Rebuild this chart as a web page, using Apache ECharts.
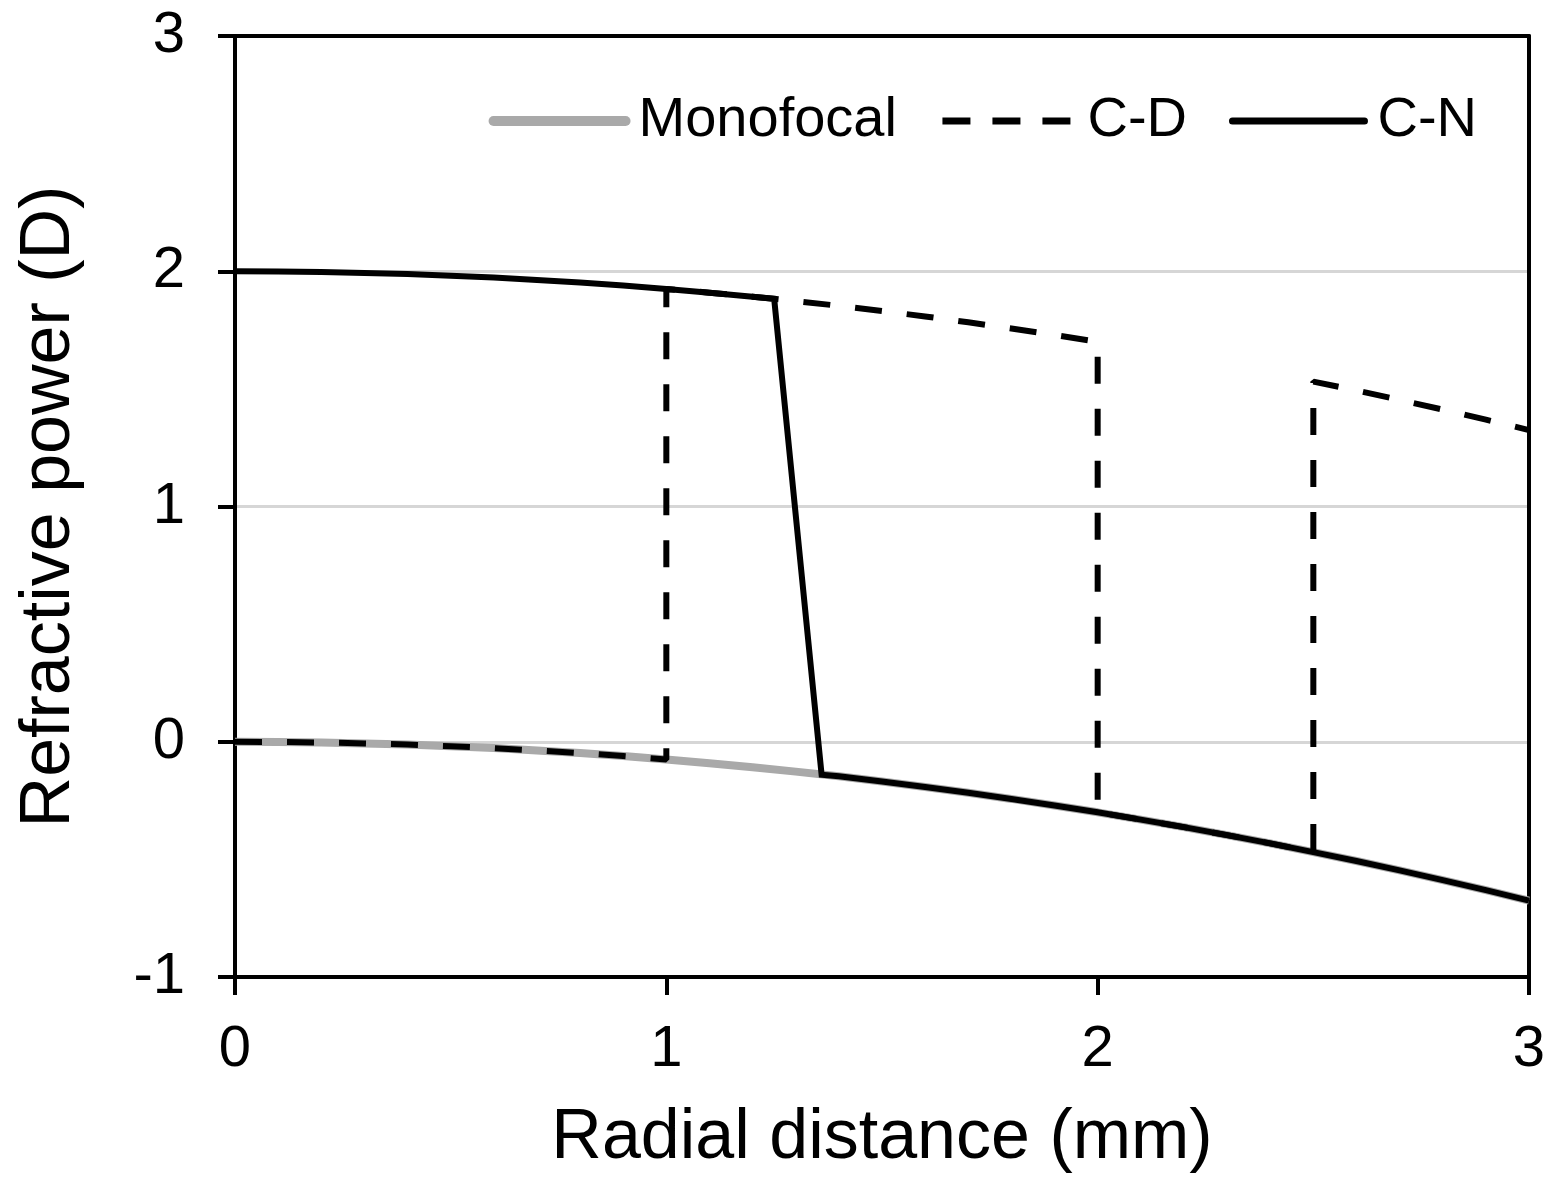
<!DOCTYPE html>
<html>
<head>
<meta charset="utf-8">
<script src="https://cdn.jsdelivr.net/npm/echarts@6/dist/echarts.min.js"></script>
<style>
  html, body { margin: 0; padding: 0; background: #fff; }
  #chart { width: 1552px; height: 1182px; }
</style>
</head>
<body>
<div id="chart"></div>
<script>
// Radial refractive power profiles of three lens designs (D vs mm)

// Monofocal profile, sampled every 0.1 mm
const monoX = [0, 0.1, 0.2, 0.3, 0.4, 0.5, 0.6, 0.7, 0.8, 0.9, 1.0,
               1.1, 1.2, 1.3, 1.4, 1.5, 1.6, 1.7, 1.8, 1.9, 2.0,
               2.1, 2.2, 2.3, 2.4, 2.5, 2.6, 2.7, 2.8, 2.9, 3.0];
const monoY = [0, -0.001, -0.003, -0.007, -0.012, -0.019, -0.027, -0.037, -0.048, -0.061, -0.075,
               -0.091, -0.108, -0.127, -0.147, -0.169, -0.192, -0.217, -0.243, -0.271, -0.300,
               -0.331, -0.363, -0.397, -0.432, -0.469, -0.507, -0.547, -0.588, -0.631, -0.675];

// C-D: alternating distance / near zones with steps at 1.0, 2.0 and 2.5 mm
const cdX = [0, 0.1, 0.2, 0.3, 0.4, 0.5, 0.6, 0.7, 0.8, 0.9, 1.0,
             1.0, 1.1, 1.2, 1.3, 1.4, 1.5, 1.6, 1.7, 1.8, 1.9, 2.0,
             2.0, 2.1, 2.2, 2.3, 2.4, 2.5,
             2.5, 2.6, 2.7, 2.8, 2.9, 3.0];
const cdY = [0, -0.001, -0.003, -0.007, -0.012, -0.019, -0.027, -0.037, -0.048, -0.061, -0.075,
             1.925, 1.909, 1.892, 1.873, 1.853, 1.831, 1.808, 1.783, 1.757, 1.729, 1.700,
             -0.300, -0.331, -0.363, -0.397, -0.432, -0.469,
             1.531, 1.493, 1.453, 1.412, 1.369, 1.325];

// C-N: near centre, then a ramp down to the distance profile at ~1.36 mm
const cnX = [0, 0.1, 0.2, 0.3, 0.4, 0.5, 0.6, 0.7, 0.8, 0.9, 1.0, 1.1, 1.2, 1.25,
             1.36, 1.4, 1.5, 1.6, 1.7, 1.8, 1.9, 2.0,
             2.1, 2.2, 2.3, 2.4, 2.5, 2.6, 2.7, 2.8, 2.9, 3.0];
const cnY = [2.0, 1.999, 1.997, 1.993, 1.988, 1.981, 1.973, 1.963, 1.952, 1.939, 1.925, 1.909, 1.892, 1.883,
             -0.140, -0.147, -0.169, -0.192, -0.217, -0.243, -0.271, -0.300,
             -0.331, -0.363, -0.397, -0.432, -0.469, -0.507, -0.547, -0.588, -0.631, -0.675];

const xTicks = [0, 1, 2, 3];
const yTicks = [-1, 0, 1, 2, 3];

const zip = (xs, ys) => xs.map((x, i) => [x, ys[i]]);

const FONT = '"Liberation Sans", Arial, sans-serif';
const GRAY = '#a9a9a9';
const chart = echarts.init(document.getElementById('chart'), null, { renderer: 'canvas' });

const axisLine = { show: true, onZero: false, lineStyle: { color: '#000', width: 4 } };
const xRange = { type: 'value', min: xTicks[0], max: xTicks[xTicks.length - 1], interval: 1 };
const yRange = { type: 'value', min: yTicks[0], max: yTicks[yTicks.length - 1], interval: 1 };

chart.setOption({
  animation: false,
  backgroundColor: '#ffffff',
  grid: { left: 235, right: 23, top: 36, bottom: 205 },
  legend: {
    right: 70, top: 88,
    itemWidth: 132, itemHeight: 16, itemGap: 42,
    itemStyle: { opacity: 0 },
    textStyle: { fontFamily: FONT, fontSize: 56, color: '#000', padding: [0, 0, 0, 8] },
    data: [
      { name: 'Monofocal', itemStyle: { opacity: 0 }, lineStyle: { width: 10, color: GRAY, cap: 'round' } },
      { name: 'C-D', itemStyle: { opacity: 0 }, lineStyle: { width: 7, color: '#000', type: [28, 22], cap: 'butt' } },
      { name: 'C-N', itemStyle: { opacity: 0 }, lineStyle: { width: 7, color: '#000', cap: 'round' } }
    ]
  },
  xAxis: [
    Object.assign({}, xRange, {
      position: 'bottom',
      name: 'Radial distance (mm)', nameLocation: 'middle', nameGap: 127,
      nameTextStyle: { fontFamily: FONT, fontSize: 70, color: '#000' },
      axisLine: axisLine,
      axisTick: { show: true, inside: false, length: 18, lineStyle: { color: '#000', width: 4 } },
      axisLabel: { fontFamily: FONT, fontSize: 58, color: '#000', margin: 44 },
      splitLine: { show: false }
    }),
    // plain frame line along the top edge
    Object.assign({}, xRange, {
      position: 'top', axisLine: axisLine,
      axisTick: { show: false }, axisLabel: { show: false }, splitLine: { show: false }
    })
  ],
  yAxis: [
    Object.assign({}, yRange, {
      position: 'left',
      name: 'Refractive power (D)', nameLocation: 'middle', nameGap: 150, nameRotate: 90,
      nameTextStyle: { fontFamily: FONT, fontSize: 70, color: '#000' },
      axisLine: axisLine,
      axisTick: { show: true, inside: false, length: 17, lineStyle: { color: '#000', width: 4 } },
      axisLabel: { fontFamily: FONT, fontSize: 58, color: '#000', margin: 50 },
      splitLine: { show: true, lineStyle: { color: '#d6d6d6', width: 3 } }
    }),
    // plain frame line along the right edge
    Object.assign({}, yRange, {
      position: 'right', axisLine: axisLine,
      axisTick: { show: false }, axisLabel: { show: false }, splitLine: { show: false }
    })
  ],
  series: [
    {
      name: 'Monofocal', type: 'line', data: zip(monoX, monoY),
      symbol: 'none', z: 2,
      itemStyle: { color: GRAY },
      lineStyle: { color: GRAY, width: 8 }
    },
    {
      name: 'C-D', type: 'line', data: zip(cdX, cdY),
      symbol: 'none', z: 3,
      itemStyle: { color: '#000' },
      lineStyle: { color: '#000', width: 6, type: [27, 25] }
    },
    {
      name: 'C-N', type: 'line', data: zip(cnX, cnY),
      symbol: 'none', z: 4,
      itemStyle: { color: '#000' },
      lineStyle: { color: '#000', width: 6, join: 'miter' }
    }
  ]
});
</script>
</body>
</html>
